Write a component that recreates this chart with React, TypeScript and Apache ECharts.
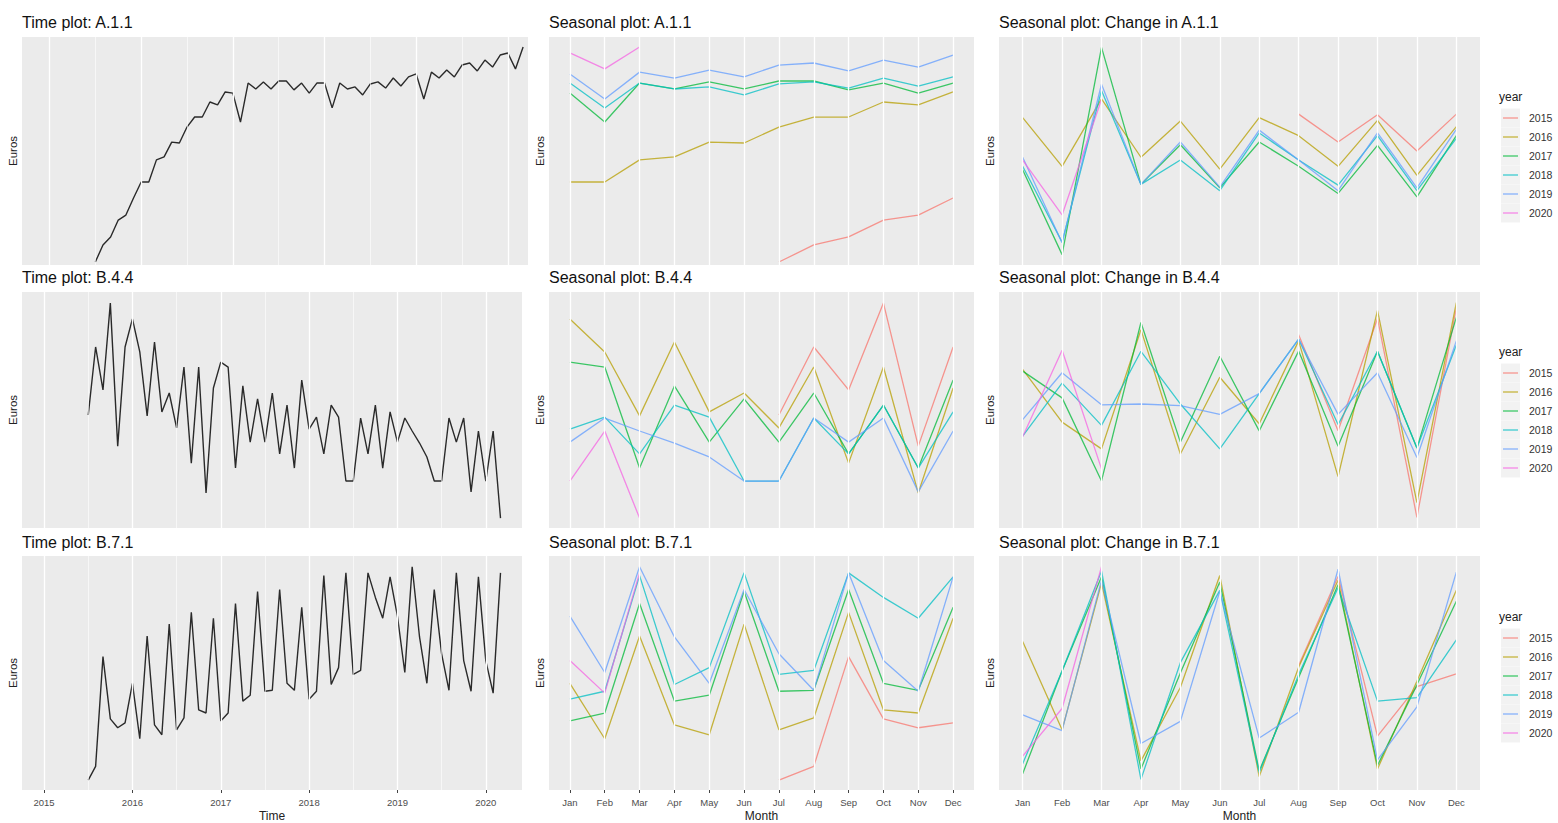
import React, { useEffect, useRef } from 'react';
import * as echarts from 'echarts';

// ---------- data (arbitrary Euro index units) ----------
const years = [2015, 2016, 2017, 2018, 2019, 2020];
const yearColors = ['#F8766D', '#B79F00', '#00BA38', '#00BFC4', '#619CFF', '#F564E3'];
const months = ['Jan', 'Feb', 'Mar', 'Apr', 'May', 'Jun', 'Jul', 'Aug', 'Sep', 'Oct', 'Nov', 'Dec'];
const monthTicks = [1, 2, 3, 4, 5, 6, 7, 8, 9, 10, 11, 12];
const timeTicks = [2015, 2016, 2017, 2018, 2019, 2020];
const timeMinorTicks = [2015.5, 2016.5, 2017.5, 2018.5, 2019.5];
const startYear = 2015;
const startMonth = 7; // first observation: Jul 2015

// monthly series, Jul 2015 .. Mar 2020
const seriesA11 = [
  1.3, 8.8, 12.3, 19.7, 21.9, 29.4,
  36.4, 36.4, 46.1, 47.4, 53.9, 53.5, 60.5, 64.9, 64.9, 71.5, 70.2, 75.9,
  75.4, 62.7, 79.8, 77.2, 80.3, 77.2, 80.7, 80.7, 76.8, 79.8, 75.4, 79.8,
  79.8, 68.9, 79.8, 77.2, 78.1, 74.6, 79.4, 80.3, 77.6, 82.0, 78.5, 82.5,
  83.8, 72.8, 84.6, 82.0, 85.5, 82.5, 87.7, 88.6, 85.1, 89.9, 86.8, 92.1,
  93.0, 86.0, 95.6,
];
const seriesB44 = [
  47.9, 76.7, 58.5, 95.3, 34.7, 76.7,
  88.6, 74.6, 47.5, 78.8, 49.2, 57.2, 42.4, 68.2, 27.5, 68.2, 14.8, 59.3,
  70.3, 68.2, 25.4, 60.2, 36.4, 54.7, 36.4, 57.2, 31.4, 52.1, 25.4, 62.7,
  41.9, 47.0, 31.4, 52.1, 47.0, 19.9, 19.9, 46.6, 31.4, 52.1, 25.4, 49.2,
  36.4, 46.6, 41.1, 36.0, 30.1, 19.9, 19.9, 46.6, 36.4, 46.6, 15.3, 41.1,
  19.9, 41.1, 4.2,
];
const seriesB71 = [
  4.2, 10.1, 57.0, 30.4, 26.6, 28.7,
  45.6, 21.9, 65.8, 27.8, 23.6, 70.9, 25.7, 30.8, 75.9, 34.2, 32.9, 73.4,
  29.5, 32.9, 79.7, 38.0, 40.5, 84.8, 42.2, 42.6, 85.7, 45.6, 42.6, 78.1,
  38.8, 42.2, 91.6, 45.1, 52.3, 92.8, 49.4, 51.1, 92.8, 82.3, 73.4, 91.1,
  74.3, 50.2, 95.4, 65.4, 45.6, 85.7, 58.2, 42.6, 92.8, 55.3, 42.2, 91.1,
  55.3, 41.4, 92.8,
];
const panelNames = ['A.1.1', 'B.4.4', 'B.7.1'];
const panelSeries = [seriesA11, seriesB44, seriesB71];

// ---------- layout ----------
const FONT = '"Liberation Sans", Arial, Helvetica, sans-serif';
const rowLayout = [
  { top: 37, height: 228, c1w: 506, tMin: 2014.7, tMax: 2020.22, legendY: 118, titleTop: 14 },
  { top: 292, height: 236, c1w: 500, tMin: 2014.75, tMax: 2020.41, legendY: 373, titleTop: 269 },
  { top: 556, height: 237, c1w: 500, tMin: 2014.75, tMax: 2020.41, legendY: 638, titleTop: 534 },
];
const colLeft = [22, 549, 999];
const colWidth2 = 425;
const colWidth3 = 481;

// ---------- helpers (reshape the series as the source chart does) ----------
function timeOf(i: number) {
  return startYear + (startMonth - 1 + i) / 12;
}
function byYear(values: (number | null)[], year: number) {
  const pts: [number, number][] = [];
  for (let m = 1; m <= 12; m++) {
    const i = (year - startYear) * 12 + (m - startMonth);
    if (i >= 0 && i < values.length && values[i] != null) pts.push([m, values[i] as number]);
  }
  return pts;
}
// "Change in" panels: month-over-month difference of the same series
function monthlyChange(values: number[]) {
  return values.map((v, i) => (i === 0 ? null : +(v - values[i - 1]).toFixed(2)));
}

function gridLineSeries(xi: number, majors: number[], minors: number[]) {
  return {
    type: 'line',
    xAxisIndex: xi,
    yAxisIndex: xi,
    data: [],
    silent: true,
    z: 1,
    markLine: {
      silent: true,
      symbol: ['none', 'none'],
      label: { show: false },
      emphasis: { disabled: true },
      lineStyle: { color: '#FFFFFF', width: 1.3, type: 'solid', opacity: 1 },
      data: [
        ...majors.map((v) => ({ xAxis: v })),
        ...minors.map((v) => ({ xAxis: v, lineStyle: { color: '#FFFFFF', width: 0.6, type: 'solid' } })),
      ],
    },
  };
}

function buildOption() {
  const grid: any[] = [];
  const xAxis: any[] = [];
  const yAxis: any[] = [];
  const series: any[] = [];
  const title: any[] = [];
  const graphic: any[] = [];

  rowLayout.forEach((row, r) => {
    const values = panelSeries[r];
    const change = monthlyChange(values);
    const chVals = change.filter((v) => v != null) as number[];
    const chMin = Math.min(...chVals);
    const chMax = Math.max(...chVals);
    const chPad = (chMax - chMin) * 0.05;
    const bottom = r === rowLayout.length - 1;

    const widths = [row.c1w, colWidth2, colWidth3];
    for (let c = 0; c < 3; c++) {
      grid.push({
        left: colLeft[c],
        top: row.top,
        width: widths[c],
        height: row.height,
        show: true,
        backgroundColor: '#EBEBEB',
        borderWidth: 0,
      });
    }

    const yBase = {
      type: 'value',
      name: 'Euros',
      nameLocation: 'middle',
      nameGap: 3,
      nameTextStyle: { fontSize: 11.5, color: '#222', fontFamily: FONT },
      axisLine: { show: false },
      axisTick: { show: false },
      axisLabel: { show: false },
      splitLine: { show: false },
    };
    yAxis.push({ ...yBase, gridIndex: 3 * r, min: 0, max: 100 });
    yAxis.push({ ...yBase, gridIndex: 3 * r + 1, min: 0, max: 100 });
    yAxis.push({ ...yBase, gridIndex: 3 * r + 2, min: chMin - chPad, max: chMax + chPad });

    const labelStyle = { fontSize: 9.5, color: '#4D4D4D', fontFamily: FONT, margin: 7 };
    const nameStyle = { fontSize: 12, color: '#222', fontFamily: FONT };
    const tickStyle = { show: true, length: 3, lineStyle: { color: '#444', width: 1 } };

    // time axis
    xAxis.push({
      gridIndex: 3 * r,
      type: 'value',
      min: row.tMin,
      max: row.tMax,
      axisLine: { show: false },
      splitLine: { show: false },
      axisTick: bottom ? { ...tickStyle, customValues: timeTicks } : { show: false },
      axisLabel: bottom
        ? { show: true, ...labelStyle, customValues: timeTicks, formatter: (v: number) => String(Math.round(v)) }
        : { show: false },
      name: bottom ? 'Time' : '',
      nameLocation: 'middle',
      nameGap: 20,
      nameTextStyle: nameStyle,
    });
    // month axes
    for (let c = 1; c < 3; c++) {
      xAxis.push({
        gridIndex: 3 * r + c,
        type: 'value',
        min: 0.4,
        max: 12.6,
        axisLine: { show: false },
        splitLine: { show: false },
        axisTick: bottom ? { ...tickStyle, customValues: monthTicks } : { show: false },
        axisLabel: bottom
          ? { show: true, ...labelStyle, customValues: monthTicks, formatter: (v: number) => months[Math.round(v) - 1] }
          : { show: false },
        name: bottom ? 'Month' : '',
        nameLocation: 'middle',
        nameGap: 20,
        nameTextStyle: nameStyle,
      });
    }

    // gridlines
    series.push(gridLineSeries(3 * r, timeTicks, timeMinorTicks));
    series.push(gridLineSeries(3 * r + 1, monthTicks, []));
    series.push(gridLineSeries(3 * r + 2, monthTicks, []));

    // time plot
    series.push({
      type: 'line',
      name: 'Time plot ' + panelNames[r],
      xAxisIndex: 3 * r,
      yAxisIndex: 3 * r,
      data: values.map((v, i) => [timeOf(i), v]),
      showSymbol: false,
      symbol: 'none',
      silent: true,
      z: 3,
      lineStyle: { color: '#2a2a2a', width: 1.4 },
    });
    // seasonal + seasonal change
    years.forEach((yr, k) => {
      series.push({
        type: 'line',
        name: String(yr),
        xAxisIndex: 3 * r + 1,
        yAxisIndex: 3 * r + 1,
        data: byYear(values, yr),
        showSymbol: false,
        symbol: 'none',
        silent: true,
        z: 3,
        lineStyle: { color: yearColors[k], width: 1.3, opacity: 0.75 },
      });
      series.push({
        type: 'line',
        name: String(yr),
        xAxisIndex: 3 * r + 2,
        yAxisIndex: 3 * r + 2,
        data: byYear(change, yr),
        showSymbol: false,
        symbol: 'none',
        silent: true,
        z: 3,
        lineStyle: { color: yearColors[k], width: 1.3, opacity: 0.75 },
      });
    });

    // titles
    const tStyle = { fontSize: 16, fontWeight: 'normal', color: '#111', fontFamily: FONT };
    title.push({ text: 'Time plot: ' + panelNames[r], left: colLeft[0], top: row.titleTop, padding: 0, textStyle: tStyle });
    title.push({ text: 'Seasonal plot: ' + panelNames[r], left: colLeft[1], top: row.titleTop, padding: 0, textStyle: tStyle });
    title.push({ text: 'Seasonal plot: Change in ' + panelNames[r], left: colLeft[2], top: row.titleTop, padding: 0, textStyle: tStyle });

    // legend (ggplot style keys)
    graphic.push({
      type: 'text',
      x: 1499,
      y: row.legendY - 21,
      style: { text: 'year', fontSize: 12, fill: '#222', fontFamily: FONT, verticalAlign: 'middle' },
    });
    years.forEach((yr, k) => {
      const cy = row.legendY + k * 19;
      graphic.push({ type: 'rect', shape: { x: 1501, y: cy - 9.5, width: 19, height: 19 }, style: { fill: '#F2F2F2' } });
      graphic.push({
        type: 'line',
        shape: { x1: 1503, y1: cy, x2: 1518, y2: cy },
        style: { stroke: yearColors[k], lineWidth: 1.3, opacity: 0.75 },
      });
      graphic.push({
        type: 'text',
        x: 1529,
        y: cy,
        style: { text: String(yr), fontSize: 10.5, fill: '#333', fontFamily: FONT, verticalAlign: 'middle' },
      });
    });
  });

  return {
    animation: false,
    backgroundColor: '#FFFFFF',
    textStyle: { fontFamily: FONT },
    title,
    grid,
    xAxis,
    yAxis,
    series,
    graphic,
  };
}

export default function App() {
  const ref = useRef<HTMLDivElement>(null);
  useEffect(() => {
    if (!ref.current) return;
    const chart = echarts.init(ref.current, null, { renderer: 'svg' });
    chart.setOption(buildOption() as any);
    return () => chart.dispose();
  }, []);
  return (
    <div
      ref={ref}
      style={{ position: 'absolute', left: 0, top: 0, width: 1558, height: 823, background: '#fff' }}
    />
  );
}
